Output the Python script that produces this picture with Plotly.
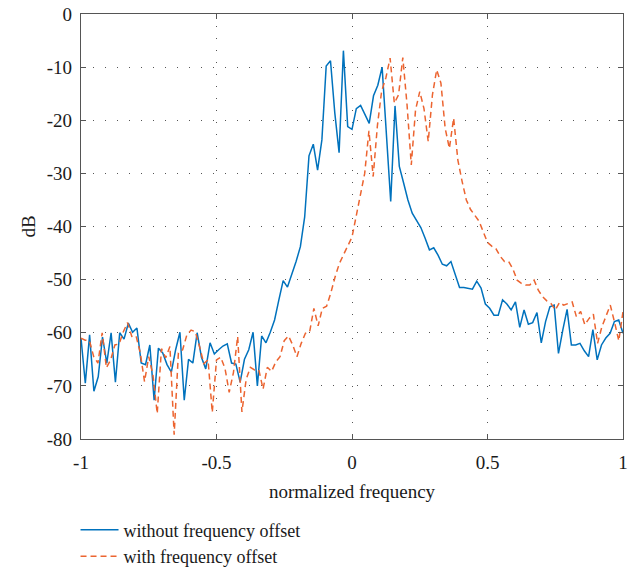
import numpy as np
import plotly.graph_objects as go

# Spectrum without frequency offset (dB), sampled uniformly over normalized frequency [-1, 1]
without_offset = [
    -61, -69.5, -60.4, -71, -68.3, -60.8, -65.7, -60, -69.3, -60,
    -61.2, -58.2, -59.9, -59.1, -65.7, -66, -62.3, -72.7, -62.9, -63.8,
    -66, -67.4, -63.2, -59.9, -72.7,
    -65, -65.7, -60, -64.6, -66.8, -61.9, -64, -63.2, -62.5, -62.1,
    -65.7, -65.9, -69.3, -65, -63.2, -59.9, -70, -60.6, -61.9, -59.9,
    -57.6, -53.8,
    -50.2, -51.4, -49.1, -46.6, -43.8, -38.2, -26.7, -24.5, -29.4, -23.7,
    -9.8, -8.8, -18.6, -26.1, -6.9, -21.2, -21.7,
    -17.8, -17.2, -19, -20.6, -15.4, -13.4, -10, -22.6, -35.3, -17.3,
    -28.7, -31.8, -35, -37.5, -38.8, -40.2, -42.2, -44.4, -44,
    -45.4, -47.1, -47.4, -46.6, -49.1, -51.5, -51.5, -51.6, -51.8, -50.3,
    -51.6, -54.6, -55.4, -56.7, -56.7, -53.8, -54.6, -55.7,
    -54.2, -59, -55.7, -58.4, -58.1, -56.2, -61.9, -57.9, -55.1, -54.8,
    -63.9, -59.5, -55.6, -62.3, -62.3, -62, -63.4, -64.5, -59.4, -65.1,
    -62.3, -61, -60.1, -57.9, -57.6, -60.1,
]

# Spectrum with frequency offset (dB)
with_offset = [
    -61, -61.4, -61.5, -64.5, -65.7, -60, -66.6, -65.1, -62.3, -62.1,
    -59.8, -58.1, -60.7, -60.6, -63.8, -69.2, -64.5, -68, -75.2, -63,
    -64.7, -62.6, -79.2, -63.8, -63.2, -60.4, -59.5, -59.8, -62.6, -65.8,
    -65.1, -75, -65.1, -64.6, -66.7, -71.2, -67.5, -60.7, -74.9, -68.8,
    -66.5, -67, -67, -70.6, -66.5, -67.3, -65.5, -64.5, -61.5, -60.6,
    -62.3, -64.5, -62, -60.1, -59.8, -55.4, -58.7, -55.4, -55, -52.5,
    -49.5, -47, -45.3, -43.5, -42, -38, -34.2, -30, -22, -30.6,
    -21, -14.5, -12, -8.3, -16.8, -15.2, -8.2, -17.1, -28.4, -18.1,
    -14.6, -17.8, -24, -15.2, -10.5, -13, -21.5, -25.3, -19.6, -27.5,
    -31.5, -35, -36.8, -38, -39, -41, -43, -43.7, -44.2, -45.6,
    -46.6, -46.6, -48, -50.1, -50.7, -51, -51, -50.1, -52, -53.2,
    -54, -54.5, -55.7, -54.3, -54.8, -54.5, -54.2, -57, -56, -58.5,
    -57.3, -56.5, -62, -58.9, -57, -54.8, -58, -61.5, -56,
]

x_ticks = [-1, -0.5, 0, 0.5, 1]
x_tick_labels = ["-1", "-0.5", "0", "0.5", "1"]
y_ticks = [0, -10, -20, -30, -40, -50, -60, -70, -80]
y_tick_labels = ["0", "-10", "-20", "-30", "-40", "-50", "-60", "-70", "-80"]

freq_without = np.linspace(-1, 1, len(without_offset))
freq_with = np.linspace(-1, 1, len(with_offset))

BLUE = "#0072BD"
ORANGE = "#EC6430"
FONT = "Liberation Serif"
TXT = "#1a1a1a"

fig = go.Figure()
fig.add_trace(go.Scatter(
    x=freq_without, y=without_offset, mode="lines",
    name="without frequency offset",
    line=dict(color=BLUE, width=1.5),
))
fig.add_trace(go.Scatter(
    x=freq_with, y=with_offset, mode="lines",
    name="with frequency offset",
    line=dict(color=ORANGE, width=1.5, dash="6px,4px"),
))

axis_common = dict(
    showline=True, linecolor="#555", linewidth=1.3, mirror="allticks",
    ticks="inside", ticklen=5, tickcolor="#555",
    showgrid=True, gridcolor="#555", gridwidth=1, griddash="1px,11px",
    zeroline=False, automargin=False, ticklabeloverflow="allow",
    tickfont=dict(family=FONT, size=19, color=TXT),
)

fig.update_xaxes(
    range=[-1, 1], tickvals=x_ticks, ticktext=x_tick_labels,
    ticklabelstandoff=6,
    title=dict(text="normalized frequency", font=dict(family=FONT, size=19, color=TXT), standoff=12),
    **axis_common,
)
fig.update_yaxes(
    range=[-80, 0], tickvals=y_ticks, ticktext=y_tick_labels,
    ticklabelstandoff=4,
    title=dict(text="dB", font=dict(family=FONT, size=19, color=TXT), standoff=6),
    **axis_common,
)

fig.update_layout(
    width=635, height=567,
    margin=dict(l=81, r=12, t=14, b=128, autoexpand=False),
    paper_bgcolor="white", plot_bgcolor="white",
    font=dict(family=FONT, size=19, color=TXT),
    showlegend=True,
    legend=dict(
        x=-0.0101, y=-0.171, xanchor="left", yanchor="top",
        orientation="v", bgcolor="rgba(0,0,0,0)",
        font=dict(family=FONT, size=18, color=TXT),
        tracegroupgap=0, itemwidth=38,
    ),
)

# Remove the default page margin so the figure sits at the window's top-left corner
fig.write_html(
    "out.html",
    config={"displayModeBar": False},
    post_script="document.body.style.margin='0';",
)
